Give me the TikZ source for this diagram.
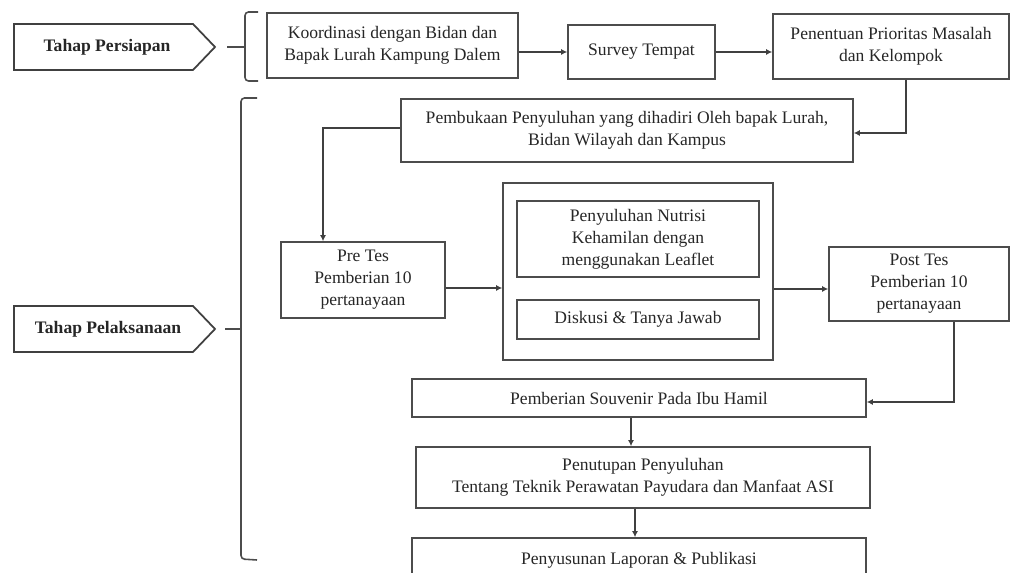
\documentclass[tikz,border=0pt]{standalone}
\usepackage{fontspec}
\setmainfont{Liberation Serif}
\usetikzlibrary{arrows.meta}

\tikzset{
  box/.style={draw=black!70, line width=0.9pt, align=center, inner sep=2pt,
    font=\fontsize{10}{12.5}\selectfont, text=black!85},
  conn/.style={draw=black!75, line width=0.7pt, -{Latex[length=3.5pt,width=3.5pt]}},
  brace/.style={draw=black!70, line width=0.9pt, rounded corners=2pt},
  tahap/.style={font=\fontsize{10}{12}\selectfont\bfseries, text=black!85}
}

\begin{document}
\begin{tikzpicture}[x=0.02cm,y=-0.02cm]
\useasboundingbox (0,0) rectangle (1011,573);
\clip (0,0) rectangle (1011,573);

% tahap
\draw[black!75, line width=1pt] (14,24) -- (193,24) -- (215,47) -- (193,70) -- (14,70) -- cycle;
\node[tahap] (persiapan) at (107,47) {Tahap Persiapan};
\draw[black!75, line width=1pt] (14,306) -- (193,306) -- (215,329) -- (193,352) -- (14,352) -- cycle;
\node[tahap] (pelaksanaan) at (108,329) {Tahap Pelaksanaan};

\draw[brace] (258,12) -- (245,12) -- (245,81) -- (258,81);
\draw[brace] (227,47) -- (245,47);
\draw[brace] (257,98) -- (241,98) -- (241,559) -- (257,560);
\draw[brace] (225,329) -- (241,329);

% persiapan
\node[box, minimum width=5.02cm, minimum height=1.30cm] (kord) at (392.5,45.5)
  {Koordinasi dengan Bidan dan\\Bapak Lurah Kampung Dalem};
\node[box, minimum width=2.94cm, minimum height=1.08cm] (survey) at (641.5,52) {Survey Tempat};
\node[box, minimum width=4.72cm, minimum height=1.30cm] (tentu) at (891,46.5)
  {Penentuan Prioritas Masalah\\dan Kelompok};

% pelaksanaan
\node[box, minimum width=9.04cm, minimum height=1.26cm] (buka) at (627,130.5)
  {Pembukaan Penyuluhan yang dihadiri Oleh bapak Lurah,\\Bidan Wilayah dan Kampus};
\node[box, minimum width=3.28cm, minimum height=1.52cm] (pre) at (363,280)
  {Pre Tes\\Pemberian 10\\pertanayaan};
\node[box, minimum width=5.40cm, minimum height=3.54cm] (outer) at (638,271.5) {};
\node[box, minimum width=4.84cm, minimum height=1.52cm] (nutri) at (638,239)
  {Penyuluhan Nutrisi\\Kehamilan dengan\\menggunakan Leaflet};
\node[box, minimum width=4.84cm, minimum height=0.78cm] (disk) at (638,319.5) {Diskusi \& Tanya Jawab};
\node[box, minimum width=3.60cm, minimum height=1.48cm] (post) at (919,284)
  {Post Tes\\Pemberian 10\\pertanayaan};
\node[box, minimum width=9.08cm, minimum height=0.76cm] (souv) at (639,398)
  {Pemberian Souvenir Pada Ibu Hamil};
\node[box, minimum width=9.08cm, minimum height=1.22cm] (tutup) at (643,477.5)
  {Penutupan Penyuluhan\\Tentang Teknik Perawatan Payudara dan Manfaat ASI};
\node[box, minimum width=9.08cm, minimum height=0.88cm] (susun) at (639,560)
  {Penyusunan Laporan \& Publikasi};

\draw[conn] (kord.east |- survey.west) -- (survey.west);
\draw[conn] (survey.east) -- (survey.east -| tentu.west);
\draw[conn] ([xshift=0.3cm]tentu.south) |- ([yshift=-0.05cm]buka.east);
\draw[conn] ([yshift=0.05cm]buka.west) -| ([xshift=-0.8cm]pre.north);
\draw[conn] ([yshift=-0.16cm]pre.east) -- ([yshift=-0.16cm]pre.east -| outer.west);
\draw[conn] ([yshift=-0.1cm]post.west -| outer.east) -- ([yshift=-0.1cm]post.west);
\draw[conn] ([xshift=0.7cm]post.south) |- ([yshift=-0.08cm]souv.east);
\draw[conn] ([xshift=-0.16cm]souv.south) -- ([xshift=-0.16cm]souv.south |- tutup.north);
\draw[conn] ([xshift=-0.16cm]tutup.south) -- ([xshift=-0.16cm]tutup.south |- susun.north);

\end{tikzpicture}
\end{document}
